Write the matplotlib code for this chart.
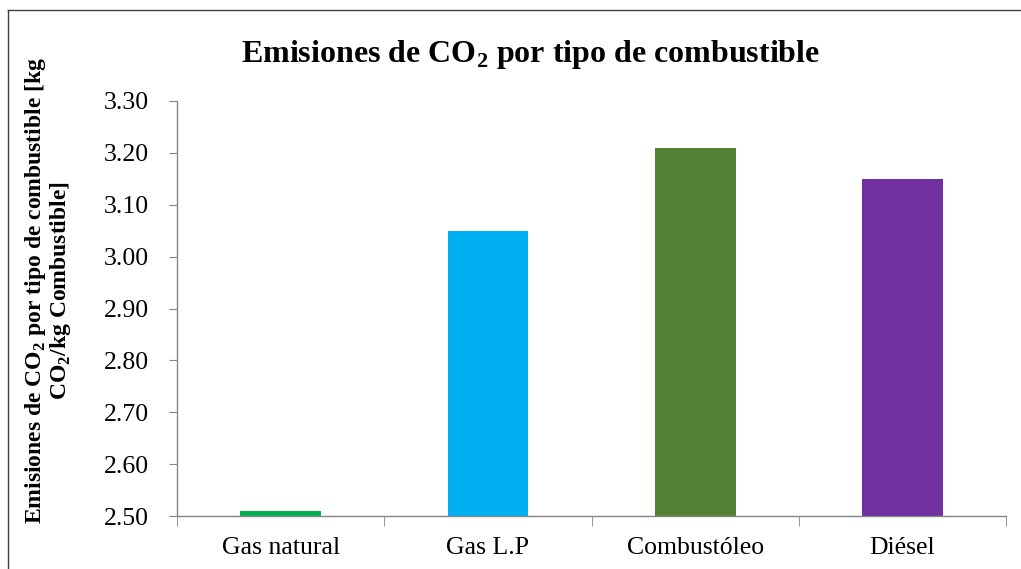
import matplotlib.pyplot as plt
import numpy as np
from matplotlib.lines import Line2D

# data
fuels = ['Gas natural', 'Gas L.P', 'Combustóleo', 'Diésel']
emissions = [2.51, 3.05, 3.21, 3.15]
colors = ['#00B050', '#00B0F0', '#538135', '#7030A0']
y_ticks = [2.50, 2.60, 2.70, 2.80, 2.90, 3.00, 3.10, 3.20, 3.30]

plt.rcParams['font.family'] = ['Liberation Serif', 'DejaVu Serif']
plt.rcParams['mathtext.fontset'] = 'custom'
plt.rcParams['mathtext.rm'] = 'Liberation Serif'
plt.rcParams['mathtext.bf'] = 'Liberation Serif:bold'

fig = plt.figure(figsize=(10.21, 5.69), dpi=100)
ax = fig.add_axes([0.1734, 0.0931, 0.812, 0.7294])

x = np.arange(len(fuels))
ax.bar(x, [v - 2.5 for v in emissions], bottom=2.5, width=0.39, color=colors)

ax.set_xlim(-0.5, len(fuels) - 0.5)
ax.set_ylim(2.5, 3.3)
ax.set_yticks(y_ticks)
ax.set_yticklabels(['%.2f' % t for t in y_ticks], fontsize=18.5)
ax.set_xticks(x)
ax.set_xticklabels(fuels, fontsize=18.5)
ax.set_xticks(np.arange(-0.5, len(fuels)), minor=True)
ax.tick_params(axis='x', which='major', length=0, pad=15)
ax.tick_params(axis='x', which='minor', length=7, color='#868686', direction='out')
ax.tick_params(axis='y', length=6, color='#868686', direction='out', pad=14)

for s in ['top', 'right']:
    ax.spines[s].set_visible(False)
for s in ['left', 'bottom']:
    ax.spines[s].set_color('#868686')
    ax.spines[s].set_linewidth(1.0)

fig.text(0.52, 0.905, r'Emisiones de CO$_\mathbf{2}$ por tipo de combustible',
         ha='center', va='center', fontsize=23, fontweight='bold')
fig.text(0.047, 0.489,
         'Emisiones de CO$_\\mathbf{2}$ por tipo de combustible [kg\nCO$_\\mathbf{2}$/kg Combustible]',
         ha='center', va='center', rotation=90, fontsize=17, fontweight='bold',
         linespacing=1.05, multialignment='center')

# frame lines visible at the top and left of the original picture
fig.add_artist(Line2D([0.008, 0.008], [0.0, 0.982], transform=fig.transFigure, color='#404040', lw=1))
fig.add_artist(Line2D([0.008, 0.999], [0.982, 0.982], transform=fig.transFigure, color='#404040', lw=1))

fig.savefig('out.png', dpi=100)
